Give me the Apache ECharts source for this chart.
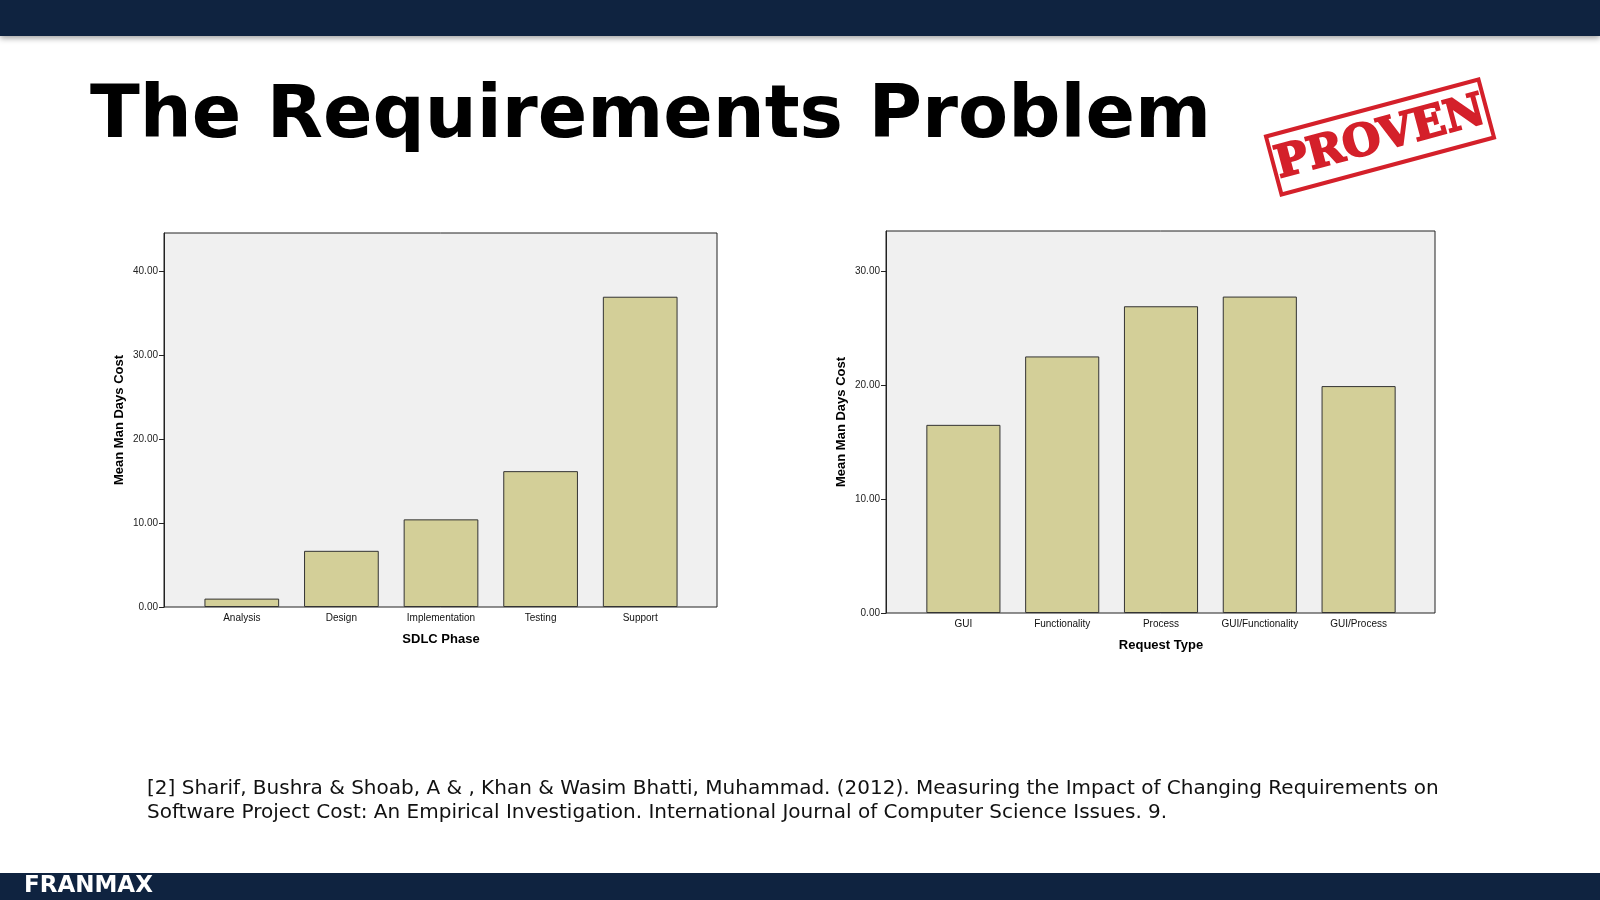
<!DOCTYPE html>
<html>
<head>
<meta charset="utf-8">
<script src="https://cdn.jsdelivr.net/npm/echarts@6/dist/echarts.min.js"></script>
<style>
  html, body { margin: 0; padding: 0; background: #fff; }
  #main { width: 1600px; height: 900px; }
</style>
</head>
<body>
<div id="main"></div>
<script>
// data
const phaseNames = ['Analysis', 'Design', 'Implementation', 'Testing', 'Support'];
const phaseCost = [1.0, 6.7, 10.45, 16.2, 37.0];
const requestNames = ['GUI', 'Functionality', 'Process', 'GUI/Functionality', 'GUI/Process'];
const requestCost = [16.5, 22.5, 26.9, 27.75, 19.9];

const navy = '#0f2340';
const barFill = '#d3cf98';
const axisFont = 'Liberation Sans';

// frame grids (0,1) carry the visible y axis; bar grids (2,3) are inset like SPSS
function frameY(gridIndex, max) {
  return {
    type: 'value', gridIndex: gridIndex, min: 0, max: max, interval: 10,
    name: 'Mean Man Days Cost', nameLocation: 'middle', nameGap: 38,
    nameTextStyle: { fontFamily: axisFont, fontWeight: 'bold', fontSize: 13, color: '#000' },
    axisLine: { show: true, lineStyle: { color: '#222' } },
    axisTick: { show: true, length: 5, lineStyle: { color: '#222' } },
    axisLabel: { fontFamily: axisFont, fontSize: 10, color: '#222', margin: 6, showMaxLabel: false,
      formatter: v => v.toFixed(2) },
    splitLine: { show: false }
  };
}
function hiddenY(gridIndex, max) {
  return { type: 'value', gridIndex: gridIndex, min: 0, max: max, show: false, splitLine: { show: false } };
}
function frameX(gridIndex) {
  return { type: 'value', gridIndex: gridIndex, show: false, splitLine: { show: false } };
}
function barX(gridIndex, names, title) {
  return {
    type: 'category', gridIndex: gridIndex, data: names,
    name: title, nameLocation: 'middle', nameGap: 26,
    nameTextStyle: { fontFamily: axisFont, fontWeight: 'bold', fontSize: 13, color: '#000' },
    axisLine: { show: false },
    axisTick: { alignWithLabel: true, length: 5, lineStyle: { color: '#222' } },
    axisLabel: { fontFamily: axisFont, fontSize: 10, color: '#111', margin: 6, interval: 0 }
  };
}
function barSeries(idx, values) {
  return {
    type: 'bar', xAxisIndex: idx, yAxisIndex: idx, data: values,
    barCategoryGap: '25%',
    itemStyle: { color: barFill, borderColor: '#333', borderWidth: 1 },
    silent: true
  };
}

const chart = echarts.init(document.getElementById('main'));
chart.setOption({
  backgroundColor: '#fff',
  animation: false,
  grid: [
    { left: 164, top: 233, width: 553, height: 374, show: true,
      backgroundColor: '#f0f0f0', borderColor: '#222', borderWidth: 1 },
    { left: 886, top: 231, width: 549, height: 382, show: true,
      backgroundColor: '#f0f0f0', borderColor: '#222', borderWidth: 1 },
    { left: 192, top: 233, width: 498, height: 374 },
    { left: 914, top: 231, width: 494, height: 382 }
  ],
  xAxis: [frameX(0), frameX(1), barX(2, phaseNames, 'SDLC Phase'), barX(3, requestNames, 'Request Type')],
  yAxis: [frameY(0, 44.6), frameY(1, 33.5), hiddenY(2, 44.6), hiddenY(3, 33.5)],
  series: [barSeries(2, phaseCost), barSeries(3, requestCost)],
  graphic: [
    { type: 'rect', shape: { x: 0, y: 0, width: 1600, height: 36 }, style: { fill: navy, shadowBlur: 6, shadowColor: 'rgba(0,0,0,0.4)', shadowOffsetY: 2 } },
    { type: 'rect', shape: { x: 0, y: 873, width: 1600, height: 27 }, style: { fill: navy } },
    { type: 'text', left: 24, top: 875, style: { text: 'FRANMAX', fill: '#fff',
      font: 'bold 23px "DejaVu Sans"' } },
    { type: 'text', left: 90, top: 82, style: { text: 'The Requirements Problem', fill: '#000',
      font: 'bold 73px "DejaVu Sans"' } },
    { type: 'group', x: 1380, y: 137, rotation: 15 * Math.PI / 180, children: [
      { type: 'rect', shape: { x: -110, y: -30, width: 220, height: 60 },
        style: { fill: 'none', stroke: '#d4202a', lineWidth: 4 } },
      { type: 'text', style: { text: 'PROVEN', x: 0, y: 2, align: 'center', verticalAlign: 'middle',
        fill: '#d4202a', font: '900 44px "DejaVu Serif"', stroke: '#d4202a', lineWidth: 2 } }
    ] },
    { type: 'text', left: 147, top: 777, style: {
      text: '[2] Sharif, Bushra & Shoab, A & , Khan & Wasim Bhatti, Muhammad. (2012). Measuring the Impact of Changing Requirements on\nSoftware Project Cost: An Empirical Investigation. International Journal of Computer Science Issues. 9.',
      fill: '#111', font: '20px "DejaVu Sans"', lineHeight: 24 } }
  ]
});
</script>
</body>
</html>
